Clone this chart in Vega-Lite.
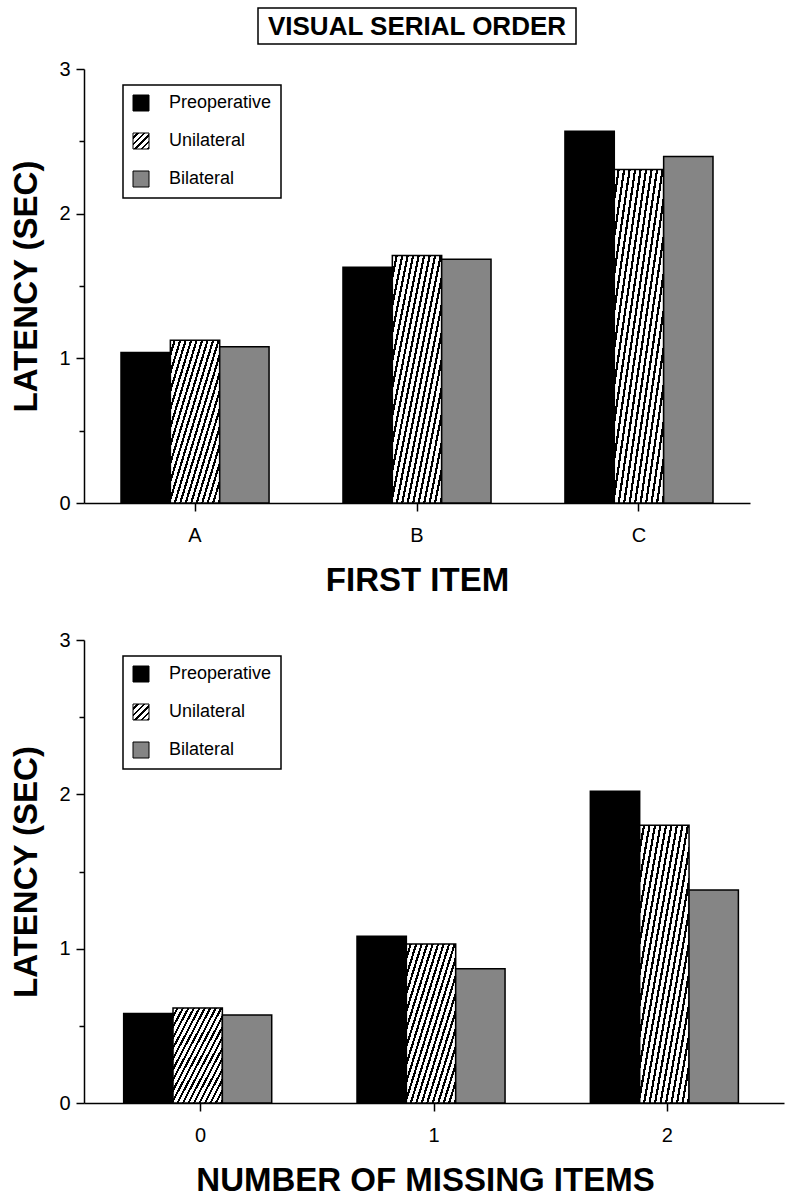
{
  "$schema": "https://vega.github.io/schema/vega-lite/v6.json",
  "background": "white",
  "padding": {"left": 10, "top": 7, "right": 5, "bottom": 5},
  "config": {
    "font": "Liberation Sans",
    "view": {"stroke": null},
    "axis": {
      "domainColor": "black", "domainWidth": 1.5, "tickColor": "black", "tickWidth": 1.5,
      "labelColor": "black", "titleColor": "black", "grid": false,
      "labelFont": "Liberation Sans", "labelFontSize": 20,
      "titleFont": "Liberation Sans", "titleFontWeight": "bold", "titleFontSize": 33
    },
    "legend": {
      "orient": "none", "legendX": 39, "legendY": 16, "title": null,
      "strokeColor": "black", "strokeWidth": 1.5, "padding": 9,
      "symbolType": "square", "symbolSize": 256, "symbolStrokeColor": "black", "symbolStrokeWidth": 1,
      "labelFont": "Liberation Sans", "labelFontSize": 18, "labelColor": "black",
      "rowPadding": 18, "labelOffset": 19
    }
  },
  "datasets": {
    "first": [
      {"item": "A", "group": "Preoperative", "latency": 1.04},
      {"item": "A", "group": "Unilateral", "latency": 1.125},
      {"item": "A", "group": "Bilateral", "latency": 1.08},
      {"item": "B", "group": "Preoperative", "latency": 1.63},
      {"item": "B", "group": "Unilateral", "latency": 1.71},
      {"item": "B", "group": "Bilateral", "latency": 1.685},
      {"item": "C", "group": "Preoperative", "latency": 2.57},
      {"item": "C", "group": "Unilateral", "latency": 2.305},
      {"item": "C", "group": "Bilateral", "latency": 2.395}
    ],
    "missing": [
      {"n": "0", "group": "Preoperative", "latency": 0.58},
      {"n": "0", "group": "Unilateral", "latency": 0.615},
      {"n": "0", "group": "Bilateral", "latency": 0.57},
      {"n": "1", "group": "Preoperative", "latency": 1.08},
      {"n": "1", "group": "Unilateral", "latency": 1.03},
      {"n": "1", "group": "Bilateral", "latency": 0.87},
      {"n": "2", "group": "Preoperative", "latency": 2.02},
      {"n": "2", "group": "Unilateral", "latency": 1.8},
      {"n": "2", "group": "Bilateral", "latency": 1.38}
    ],
    "heading": [{"t": "VISUAL SERIAL ORDER"}]
  },
  "spacing": 33,
  "resolve": {"scale": {"fill": "independent"}, "legend": {"fill": "independent"}},
  "vconcat": [
    {
      "bounds": "flush",
      "center": true,
      "spacing": 25,
      "resolve": {"scale": {"fill": "independent"}, "legend": {"fill": "independent"}},
      "vconcat": [
        {
          "width": 318, "height": 36,
          "view": {"stroke": "black", "strokeWidth": 1.5},
          "data": {"name": "heading"},
          "mark": {"type": "text", "font": "Liberation Sans", "fontWeight": "bold", "fontSize": 26, "align": "center", "baseline": "middle", "dy": 1, "color": "black"},
          "encoding": {"text": {"field": "t", "type": "nominal"}}
        },
        {
          "width": 666, "height": 434,
          "data": {"name": "first"},
          "mark": {"type": "bar", "stroke": "black", "strokeWidth": 1.5},
          "encoding": {
            "x": {"field": "item", "type": "nominal", "scale": {"paddingInner": 0.333, "paddingOuter": 0.1667},
                  "axis": {"title": "FIRST ITEM", "labelAngle": 0, "tickSize": 8, "labelPadding": 14, "titlePadding": 19}},
            "xOffset": {"field": "group", "type": "nominal", "scale": {"domain": ["Preoperative", "Unilateral", "Bilateral"], "paddingInner": 0, "paddingOuter": 0}},
            "y": {"field": "latency", "type": "quantitative", "scale": {"domain": [0, 3], "nice": false},
                  "axis": {"title": "LATENCY (SEC)", "values": [0, 0.5, 1, 1.5, 2, 2.5, 3],
                           "labelExpr": "datum.value % 1 === 0 ? '' + datum.value : ''",
                           "tickSize": {"condition": {"test": "datum.value % 1 === 0", "value": 8}, "value": 5},
                           "labelPadding": 6, "titlePadding": 15}},
            "fill": {
              "condition": {"test": "datum.group === 'Unilateral'", "value":
                {"gradient": "linear", "x1": 0, "y1": 0, "x2": 1, "y2": 1, "stops": [
                  {"offset": 0, "color": "#fff"}, {"offset": 0.0333, "color": "#fff"}, {"offset": 0.0333, "color": "#000"}, {"offset": 0.0556, "color": "#000"},
                  {"offset": 0.0556, "color": "#fff"}, {"offset": 0.0889, "color": "#fff"}, {"offset": 0.0889, "color": "#000"}, {"offset": 0.1111, "color": "#000"},
                  {"offset": 0.1111, "color": "#fff"}, {"offset": 0.1444, "color": "#fff"}, {"offset": 0.1444, "color": "#000"}, {"offset": 0.1667, "color": "#000"},
                  {"offset": 0.1667, "color": "#fff"}, {"offset": 0.2, "color": "#fff"}, {"offset": 0.2, "color": "#000"}, {"offset": 0.2222, "color": "#000"},
                  {"offset": 0.2222, "color": "#fff"}, {"offset": 0.2556, "color": "#fff"}, {"offset": 0.2556, "color": "#000"}, {"offset": 0.2778, "color": "#000"},
                  {"offset": 0.2778, "color": "#fff"}, {"offset": 0.3111, "color": "#fff"}, {"offset": 0.3111, "color": "#000"}, {"offset": 0.3333, "color": "#000"},
                  {"offset": 0.3333, "color": "#fff"}, {"offset": 0.3667, "color": "#fff"}, {"offset": 0.3667, "color": "#000"}, {"offset": 0.3889, "color": "#000"},
                  {"offset": 0.3889, "color": "#fff"}, {"offset": 0.4222, "color": "#fff"}, {"offset": 0.4222, "color": "#000"}, {"offset": 0.4444, "color": "#000"},
                  {"offset": 0.4444, "color": "#fff"}, {"offset": 0.4778, "color": "#fff"}, {"offset": 0.4778, "color": "#000"}, {"offset": 0.5, "color": "#000"},
                  {"offset": 0.5, "color": "#fff"}, {"offset": 0.5333, "color": "#fff"}, {"offset": 0.5333, "color": "#000"}, {"offset": 0.5556, "color": "#000"},
                  {"offset": 0.5556, "color": "#fff"}, {"offset": 0.5889, "color": "#fff"}, {"offset": 0.5889, "color": "#000"}, {"offset": 0.6111, "color": "#000"},
                  {"offset": 0.6111, "color": "#fff"}, {"offset": 0.6444, "color": "#fff"}, {"offset": 0.6444, "color": "#000"}, {"offset": 0.6667, "color": "#000"},
                  {"offset": 0.6667, "color": "#fff"}, {"offset": 0.7, "color": "#fff"}, {"offset": 0.7, "color": "#000"}, {"offset": 0.7222, "color": "#000"},
                  {"offset": 0.7222, "color": "#fff"}, {"offset": 0.7556, "color": "#fff"}, {"offset": 0.7556, "color": "#000"}, {"offset": 0.7778, "color": "#000"},
                  {"offset": 0.7778, "color": "#fff"}, {"offset": 0.8111, "color": "#fff"}, {"offset": 0.8111, "color": "#000"}, {"offset": 0.8333, "color": "#000"},
                  {"offset": 0.8333, "color": "#fff"}, {"offset": 0.8667, "color": "#fff"}, {"offset": 0.8667, "color": "#000"}, {"offset": 0.8889, "color": "#000"},
                  {"offset": 0.8889, "color": "#fff"}, {"offset": 0.9222, "color": "#fff"}, {"offset": 0.9222, "color": "#000"}, {"offset": 0.9444, "color": "#000"},
                  {"offset": 0.9444, "color": "#fff"}, {"offset": 0.9778, "color": "#fff"}, {"offset": 0.9778, "color": "#000"}, {"offset": 1, "color": "#000"}
                ]}},
              "field": "group", "type": "nominal",
              "scale": {"domain": ["Preoperative", "Unilateral", "Bilateral"], "range": ["#000000",
                {"expr": "{gradient: 'linear', x1: 0, y1: 0, x2: 1, y2: 1, stops: [{offset: 0, color: '#fff'}, {offset: 0.12, color: '#fff'}, {offset: 0.12, color: '#000'}, {offset: 0.2, color: '#000'}, {offset: 0.2, color: '#fff'}, {offset: 0.32, color: '#fff'}, {offset: 0.32, color: '#000'}, {offset: 0.4, color: '#000'}, {offset: 0.4, color: '#fff'}, {offset: 0.52, color: '#fff'}, {offset: 0.52, color: '#000'}, {offset: 0.6, color: '#000'}, {offset: 0.6, color: '#fff'}, {offset: 0.72, color: '#fff'}, {offset: 0.72, color: '#000'}, {offset: 0.8, color: '#000'}, {offset: 0.8, color: '#fff'}, {offset: 0.92, color: '#fff'}, {offset: 0.92, color: '#000'}, {offset: 1, color: '#000'}]}"},
                "#858585"]},
              "legend": {}
            }
          }
        }
      ]
    },
    {
      "width": 700, "height": 463,
      "data": {"name": "missing"},
      "mark": {"type": "bar", "stroke": "black", "strokeWidth": 1.5},
      "encoding": {
        "x": {"field": "n", "type": "nominal", "scale": {"paddingInner": 0.34, "paddingOuter": 0.17},
              "axis": {"title": "NUMBER OF MISSING ITEMS", "labelAngle": 0, "tickSize": 8, "labelPadding": 14, "titlePadding": 19, "titleX": 341}},
        "xOffset": {"field": "group", "type": "nominal", "scale": {"domain": ["Preoperative", "Unilateral", "Bilateral"], "paddingInner": 0, "paddingOuter": 0}},
        "y": {"field": "latency", "type": "quantitative", "scale": {"domain": [0, 3], "nice": false},
              "axis": {"title": "LATENCY (SEC)", "values": [0, 0.5, 1, 1.5, 2, 2.5, 3],
                       "labelExpr": "datum.value % 1 === 0 ? '' + datum.value : ''",
                       "tickSize": {"condition": {"test": "datum.value % 1 === 0", "value": 8}, "value": 5},
                       "labelPadding": 6, "titlePadding": 15}},
        "fill": {
          "condition": {"test": "datum.group === 'Unilateral'", "value":
            {"gradient": "linear", "x1": 0, "y1": 0, "x2": 1, "y2": 1, "stops": [
              {"offset": 0, "color": "#fff"}, {"offset": 0.0333, "color": "#fff"}, {"offset": 0.0333, "color": "#000"}, {"offset": 0.0556, "color": "#000"},
              {"offset": 0.0556, "color": "#fff"}, {"offset": 0.0889, "color": "#fff"}, {"offset": 0.0889, "color": "#000"}, {"offset": 0.1111, "color": "#000"},
              {"offset": 0.1111, "color": "#fff"}, {"offset": 0.1444, "color": "#fff"}, {"offset": 0.1444, "color": "#000"}, {"offset": 0.1667, "color": "#000"},
              {"offset": 0.1667, "color": "#fff"}, {"offset": 0.2, "color": "#fff"}, {"offset": 0.2, "color": "#000"}, {"offset": 0.2222, "color": "#000"},
              {"offset": 0.2222, "color": "#fff"}, {"offset": 0.2556, "color": "#fff"}, {"offset": 0.2556, "color": "#000"}, {"offset": 0.2778, "color": "#000"},
              {"offset": 0.2778, "color": "#fff"}, {"offset": 0.3111, "color": "#fff"}, {"offset": 0.3111, "color": "#000"}, {"offset": 0.3333, "color": "#000"},
              {"offset": 0.3333, "color": "#fff"}, {"offset": 0.3667, "color": "#fff"}, {"offset": 0.3667, "color": "#000"}, {"offset": 0.3889, "color": "#000"},
              {"offset": 0.3889, "color": "#fff"}, {"offset": 0.4222, "color": "#fff"}, {"offset": 0.4222, "color": "#000"}, {"offset": 0.4444, "color": "#000"},
              {"offset": 0.4444, "color": "#fff"}, {"offset": 0.4778, "color": "#fff"}, {"offset": 0.4778, "color": "#000"}, {"offset": 0.5, "color": "#000"},
              {"offset": 0.5, "color": "#fff"}, {"offset": 0.5333, "color": "#fff"}, {"offset": 0.5333, "color": "#000"}, {"offset": 0.5556, "color": "#000"},
              {"offset": 0.5556, "color": "#fff"}, {"offset": 0.5889, "color": "#fff"}, {"offset": 0.5889, "color": "#000"}, {"offset": 0.6111, "color": "#000"},
              {"offset": 0.6111, "color": "#fff"}, {"offset": 0.6444, "color": "#fff"}, {"offset": 0.6444, "color": "#000"}, {"offset": 0.6667, "color": "#000"},
              {"offset": 0.6667, "color": "#fff"}, {"offset": 0.7, "color": "#fff"}, {"offset": 0.7, "color": "#000"}, {"offset": 0.7222, "color": "#000"},
              {"offset": 0.7222, "color": "#fff"}, {"offset": 0.7556, "color": "#fff"}, {"offset": 0.7556, "color": "#000"}, {"offset": 0.7778, "color": "#000"},
              {"offset": 0.7778, "color": "#fff"}, {"offset": 0.8111, "color": "#fff"}, {"offset": 0.8111, "color": "#000"}, {"offset": 0.8333, "color": "#000"},
              {"offset": 0.8333, "color": "#fff"}, {"offset": 0.8667, "color": "#fff"}, {"offset": 0.8667, "color": "#000"}, {"offset": 0.8889, "color": "#000"},
              {"offset": 0.8889, "color": "#fff"}, {"offset": 0.9222, "color": "#fff"}, {"offset": 0.9222, "color": "#000"}, {"offset": 0.9444, "color": "#000"},
              {"offset": 0.9444, "color": "#fff"}, {"offset": 0.9778, "color": "#fff"}, {"offset": 0.9778, "color": "#000"}, {"offset": 1, "color": "#000"}
            ]}},
          "field": "group", "type": "nominal",
          "scale": {"domain": ["Preoperative", "Unilateral", "Bilateral"], "range": ["#000000",
            {"expr": "{gradient: 'linear', x1: 0, y1: 0, x2: 1, y2: 1, stops: [{offset: 0, color: '#fff'}, {offset: 0.12, color: '#fff'}, {offset: 0.12, color: '#000'}, {offset: 0.2, color: '#000'}, {offset: 0.2, color: '#fff'}, {offset: 0.32, color: '#fff'}, {offset: 0.32, color: '#000'}, {offset: 0.4, color: '#000'}, {offset: 0.4, color: '#fff'}, {offset: 0.52, color: '#fff'}, {offset: 0.52, color: '#000'}, {offset: 0.6, color: '#000'}, {offset: 0.6, color: '#fff'}, {offset: 0.72, color: '#fff'}, {offset: 0.72, color: '#000'}, {offset: 0.8, color: '#000'}, {offset: 0.8, color: '#fff'}, {offset: 0.92, color: '#fff'}, {offset: 0.92, color: '#000'}, {offset: 1, color: '#000'}]}"},
            "#858585"]},
          "legend": {}
        }
      }
    }
  ]
}
